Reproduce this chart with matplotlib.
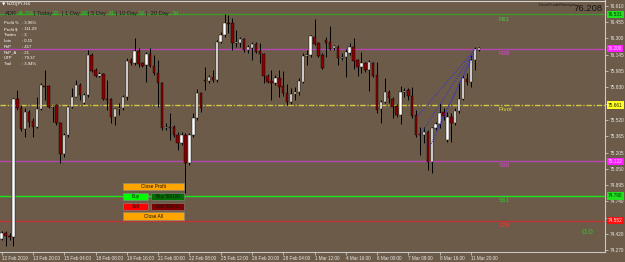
import matplotlib
matplotlib.use('Agg')
import matplotlib.pyplot as plt
import matplotlib.transforms as mtransforms
from matplotlib.patches import Rectangle
import numpy as np

plt.rcParams['font.family'] = ['Liberation Sans', 'DejaVu Sans']

# NZDJPY H4 candles
opens = [74.376, 74.434, 74.405, 74.395, 75.719, 75.632, 75.431, 75.594, 75.508, 75.450,
         75.623, 75.843, 75.843, 75.642, 75.661, 75.488, 75.191, 75.373, 75.642, 75.738,
         75.853, 75.680, 75.757, 76.141, 75.997, 75.939, 75.958, 75.719, 75.719, 75.546,
         75.623, 75.632, 75.738, 76.093, 76.064, 76.179, 76.064, 76.045, 76.150, 76.035,
         75.968, 75.872, 75.441, 75.450, 75.450, 75.373, 75.297, 75.373, 75.105, 75.373,
         75.536, 75.776, 75.901, 75.891, 75.930, 75.901, 76.265, 76.332, 76.447, 76.447,
         76.256, 76.256, 76.294, 76.188, 76.208, 76.246, 76.179, 76.150, 75.939, 75.891,
         75.872, 75.920, 75.843, 75.776, 75.690, 75.767, 75.786, 75.882, 76.131, 76.141,
         76.313, 76.256, 76.141, 76.284, 76.265, 76.208, 76.217, 76.112, 76.121, 76.160,
         76.217, 76.093, 76.026, 76.064, 75.997, 76.064, 75.949, 75.623, 75.690, 75.786,
         75.719, 75.652, 75.565, 75.786, 75.805, 75.747, 75.565, 75.383, 75.373, 75.402,
         75.114, 75.441, 75.479, 75.594, 75.325, 75.546, 75.488, 75.604, 75.719, 75.910,
         75.882, 76.093, 76.188]
highs = [74.453, 74.453, 74.434, 75.728, 75.805, 75.661, 75.632, 75.613, 75.536, 75.738,
         75.872, 75.997, 75.853, 75.661, 75.671, 75.498, 75.393, 75.652, 75.824, 75.901,
         75.872, 75.776, 76.188, 76.160, 76.016, 75.978, 75.968, 75.901, 75.728, 75.632,
         75.680, 75.757, 76.112, 76.112, 76.304, 76.208, 76.073, 76.169, 76.208, 76.141,
         76.093, 75.882, 75.488, 75.584, 75.469, 75.402, 75.402, 75.393, 75.393, 75.584,
         75.815, 75.786, 76.026, 75.949, 75.997, 76.284, 76.361, 76.534, 76.524, 76.495,
         76.380, 76.313, 76.304, 76.236, 76.265, 76.265, 76.256, 76.160, 75.958, 75.997,
         75.949, 75.997, 75.987, 75.862, 75.824, 75.834, 75.920, 76.160, 76.188, 76.332,
         76.486, 76.265, 76.160, 76.313, 76.419, 76.236, 76.236, 76.160, 76.198, 76.256,
         76.304, 76.102, 76.169, 76.073, 76.093, 76.073, 76.073, 75.709, 75.920, 75.805,
         75.738, 75.671, 75.843, 75.824, 75.824, 75.834, 75.613, 75.450, 75.450, 75.421,
         75.450, 75.498, 75.680, 75.632, 75.594, 75.584, 75.632, 75.882, 75.949, 75.968,
         76.141, 76.217, 76.217]
lows = [74.366, 74.309, 74.366, 74.309, 75.613, 75.412, 75.354, 75.450, 75.354, 75.441,
        75.613, 75.709, 75.632, 75.498, 75.469, 75.105, 75.162, 75.354, 75.632, 75.738,
        75.709, 75.671, 75.738, 75.978, 75.930, 75.930, 75.709, 75.613, 75.488, 75.469,
        75.565, 75.613, 75.709, 76.045, 76.045, 76.026, 76.026, 75.882, 76.026, 75.949,
        75.642, 75.421, 75.421, 75.325, 75.354, 75.230, 75.277, 74.817, 75.086, 75.354,
        75.517, 75.594, 75.805, 75.872, 75.882, 75.882, 76.256, 76.313, 76.352, 76.188,
        76.217, 76.217, 76.169, 76.160, 76.093, 76.160, 76.064, 75.872, 75.872, 75.709,
        75.853, 75.738, 75.747, 75.661, 75.671, 75.709, 75.757, 75.872, 76.045, 76.121,
        76.236, 76.121, 76.006, 76.121, 76.188, 76.188, 76.045, 76.093, 75.930, 76.141,
        76.006, 75.939, 75.968, 75.978, 75.795, 75.930, 75.584, 75.488, 75.680, 75.680,
        75.536, 75.546, 75.479, 75.738, 75.709, 75.536, 75.354, 75.182, 75.297, 75.038,
        75.009, 75.421, 75.441, 75.517, 75.306, 75.306, 75.469, 75.584, 75.709, 75.853,
        75.834, 75.997, 76.179]
closes = [74.434, 74.405, 74.395, 75.719, 75.632, 75.431, 75.594, 75.498, 75.450, 75.623,
          75.853, 75.834, 75.642, 75.652, 75.488, 75.191, 75.373, 75.642, 75.738, 75.853,
          75.757, 75.757, 76.141, 75.987, 75.939, 75.958, 75.719, 75.709, 75.546, 75.623,
          75.632, 75.738, 76.083, 76.064, 76.179, 76.054, 76.035, 76.150, 76.035, 75.968,
          75.872, 75.441, 75.450, 75.441, 75.373, 75.297, 75.373, 75.105, 75.373, 75.536,
          75.776, 75.632, 75.891, 75.930, 75.901, 76.265, 76.332, 76.447, 76.438, 76.256,
          76.265, 76.294, 76.188, 76.217, 76.246, 76.169, 76.150, 75.939, 75.882, 75.872,
          75.920, 75.834, 75.776, 75.690, 75.767, 75.786, 75.891, 76.131, 76.141, 76.323,
          76.246, 76.131, 76.016, 76.256, 76.198, 76.227, 76.112, 76.121, 76.169, 76.217,
          76.083, 76.026, 76.064, 75.997, 76.073, 75.939, 75.613, 75.690, 75.786, 75.728,
          75.642, 75.565, 75.786, 75.795, 75.747, 75.556, 75.373, 75.373, 75.402, 75.114,
          75.441, 75.479, 75.584, 75.556, 75.546, 75.488, 75.604, 75.719, 75.920, 75.882,
          76.093, 76.198, 76.208]

# time axis labels every 8 bars
time_tick_bars = [0, 8, 16, 24, 32, 40, 48, 56, 64, 72, 80, 88, 96, 104, 112, 120]
time_tick_labels = ['12 Feb 2019', '13 Feb 20:00', '15 Feb 04:00', '18 Feb 08:00',
                    '19 Feb 16:00', '21 Feb 00:00', '22 Feb 08:00', '25 Feb 12:00',
                    '26 Feb 20:00', '28 Feb 04:00', '1 Mar 12:00', '4 Mar 16:00',
                    '6 Mar 00:00', '7 Mar 08:00', '8 Mar 16:00', '11 Mar 20:00']
price_ticks = [76.610, 76.455, 76.300, 76.145, 75.985, 75.830, 75.675, 75.520,
               75.365, 75.205, 75.050, 74.895, 74.740, 74.580, 74.420, 74.270]
# these two labels sit under the coloured level boxes
hidden_ticks = [75.675, 74.580]

# pivot levels
level_names = ['R61', 'R38', 'Pivot', 'S38', 'S61', 'S78']
level_values = [76.531, 76.200, 75.661, 75.122, 74.790, 74.552]
level_colors = ['#3f9a2c', '#b447b4', '#d2c844', '#b447b4', '#1ee61e', '#c23434']
level_text_colors = ['#3fd03f', '#e048e0', '#e8e040', '#e048e0', '#30d030', '#ff3030']
level_box_colors = ['#20e020', '#ff20ff', '#ffff20', '#ff20ff', '#20e020', '#ff1010']
level_box_text = ['#003300', '#ffe0ff', '#202000', '#ffe0ff', '#003300', '#ffe0e0']

# closed trades (bar index, price) -> (bar index, price)
trade_lines = [((106.5, 75.560), (120.9, 76.190)),
               ((107.4, 75.395), (120.7, 76.170)),
               ((109.6, 75.270), (120.5, 76.140)),
               ((111.3, 75.420), (120.3, 76.110))]

info_labels = ['Profit %', 'Profit $', 'Trades', 'Lots', 'PnP', 'PnP_A', 'UTP', 'Trail']
info_values = ['3.96%', '111.29', '3', '0.15', '417', '21', '79.37', '3.94%']

adr_parts = ['ADR', '41.7%', '| Today', '22', '| 1 Day', '82', '| 5 Day', '61',
             '| 10 Day', '52', '|  20 Day', '54']

bg = '#6c5b48'
W, H = 625, 262
fig = plt.figure(figsize=(W / 100, H / 100), dpi=100, facecolor=bg)
ax = fig.add_axes([0, 10 / H, 605 / W, 252 / H], facecolor=bg)

n = len(opens)
idx = np.arange(n)
o = np.array(opens)
c = np.array(closes)
up = c >= o
step = 3.91
ax.set_xlim(-1.7 / step, (605 - 1.7) / step)
ax.set_ylim(74.2513, 76.668)

# level lines
for name, val, col in zip(level_names, level_values, level_colors):
    if name == 'Pivot':
        ax.axhline(val, color=col, lw=1.0, dashes=(4, 1.2, 1, 1.2), zorder=1)
    else:
        ax.axhline(val, color=col, lw=1.0, zorder=1)

# candles
ax.vlines(idx, lows, highs, color='black', lw=0.7, zorder=3)
ax.bar(idx[up], np.maximum((c - o)[up], 0.004), bottom=o[up], width=0.62,
       color='white', edgecolor='black', lw=0.3, zorder=4)
ax.bar(idx[~up], np.maximum((o - c)[~up], 0.004), bottom=c[~up], width=0.62,
       color='#8b0000', edgecolor='black', lw=0.3, zorder=4)

for (x0, y0), (x1, y1) in trade_lines:
    ax.plot([x0, x1], [y0, y1], color='#3030e0', lw=0.7, ls=(0, (1, 1.2)), zorder=5)

# level names on chart
for name, val, tc in zip(level_names, level_values, level_text_colors):
    ax.annotate(name, (127, val), xytext=(0, -3.4), textcoords='offset points',
                color=tc, fontsize=4.4, va='center', ha='left', zorder=6)

# axes frame
for s in ['left', 'top']:
    ax.spines[s].set_visible(False)
for s in ['right', 'bottom']:
    ax.spines[s].set_color('#c8c8c8')
    ax.spines[s].set_linewidth(0.8)
ax.yaxis.tick_right()
ax.set_yticks(price_ticks)
ax.set_yticklabels(['' if p in hidden_ticks else f'{p:.3f}' for p in price_ticks])
ax.set_xticks(time_tick_bars)
ax.set_xticklabels(time_tick_labels, ha='left')
ax.tick_params(axis='y', colors='#c8c8c8', labelcolor='#e8e8e8', labelsize=3.4,
               length=2, width=0.6, pad=1.2)
ax.tick_params(axis='x', colors='#c8c8c8', labelcolor='#e8e8e8', labelsize=3.3,
               length=2, width=0.6, pad=0.8)

# coloured price boxes on the axis
trans = mtransforms.blended_transform_factory(ax.transAxes, ax.transData)
for val, bc, tc in zip(level_values, level_box_colors, level_box_text):
    ax.text(1 + 3 / 605, val, f'{val:.3f}', transform=trans, fontsize=3.4,
            color=tc, va='center', ha='left', clip_on=False, zorder=7,
            bbox=dict(boxstyle='square,pad=0.25', fc=bc, ec='none'))

# overlay in pixel coordinates for panel texts and buttons
ov = fig.add_axes([0, 0, 1, 1])
ov.set_xlim(0, W)
ov.set_ylim(H, 0)
ov.axis('off')
ov.patch.set_alpha(0)

ov.plot([0, 605], [1.2, 1.2], color='#d0d0d0', lw=0.8)
ov.text(2.5, 4.2, '\u25bc NZDJPY,H4', fontsize=3.2, color='white', va='center',
        family=['DejaVu Sans'])

adr_x = [5, 17.5, 33.5, 52.5, 61.5, 81.5, 88.5, 108.5, 116, 138.5, 146, 172.5]
for k, (txt, xx) in enumerate(zip(adr_parts, adr_x)):
    col = '#1c1c1c' if k % 2 == 0 else '#18d818'
    ov.text(xx, 13.2, txt, fontsize=4.1, color=col, va='center', ha='left')

for k, (lab, val) in enumerate(zip(info_labels, info_values)):
    yy = 23.3 + k * 5.85
    ov.text(4, yy, lab, fontsize=3.1, color='white', va='center')
    ov.text(21.5, yy, ': ' + val, fontsize=3.1, color='white', va='center')

ov.text(576, 5.2, 'DavidTradeManager', fontsize=3.0, color='#202020', va='center', ha='right')
ov.text(573, 8.5, '76.208', fontsize=6.8, color='#141414', va='center', ha='left')
ov.text(582, 233, '0.0', fontsize=6.0, color='#2cc82c', va='center', ha='left')

buttons = [(123, 182.7, 61, 7.3, '#ffa500', 'Close Profit'),
           (123, 192.7, 25, 7.3, '#00ff00', 'Buy'),
           (150.7, 192.7, 33.6, 7.3, '#007000', 'Buy 50/100'),
           (123, 202.7, 25, 7.3, '#ff0000', 'Sell'),
           (150.7, 202.7, 33.6, 7.3, '#800000', 'Sell 50/100'),
           (123, 212.3, 61, 7.3, '#ffa500', 'Close All')]
for bx, by, bw, bh, fc, txt in buttons:
    ov.add_patch(Rectangle((bx, by), bw, bh, fc=fc, ec='#8a8a8a', lw=0.4))
    ov.text(bx + bw / 2, by + bh / 2 + 0.2, txt, fontsize=3.4, color='#101010',
            ha='center', va='center')

fig.savefig('out.png', dpi=100, facecolor=bg)
